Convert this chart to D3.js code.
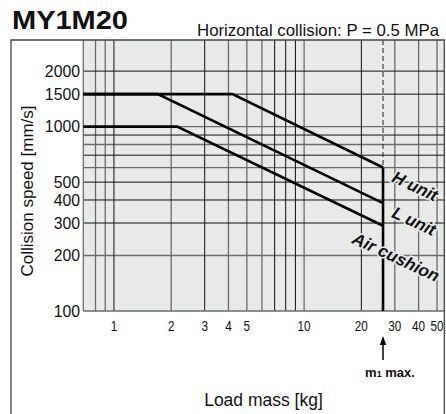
<!DOCTYPE html>
<html>
<head>
<meta charset="utf-8">
<script src="https://d3js.org/d3.v7.min.js"></script>
<style>
  body { margin: 0; background: #fff; }
  text { font-family: "Liberation Sans", Arial, Helvetica, sans-serif; fill: #111; }
</style>
</head>
<body>
<div id="chart"></div>
<script>
// data
var hUnit = [[0.69, 1500], [4.2, 1500], [26, 600]];
var lUnit = [[0.69, 1500], [1.7, 1500], [26, 385]];
var airCushion = [[0.69, 1000], [2.15, 1000], [26, 290]];
var m1Max = 26;

var yTicks = [100, 200, 300, 400, 500, 1000, 1500, 2000];
var xTicks = [1, 2, 3, 4, 5, 10, 20, 30, 40, 50];
var yGridBlack = [300, 400, 500, 700, 900, 1500, 2000];
var yGridGray = [200, 600, 800, 1000];
var xGridBlack = [1, 3, 7, 8, 9, 20];
var xGridGray = [0.8, 0.9, 2, 4, 5, 6, 10, 30, 40, 50];

var W = 446, H = 414;
var pLeft = 83.3, pRight = 444.3, pTop = 40, pBottom = 311;

var svg = d3.select("#chart").append("svg")
    .attr("width", W).attr("height", H);

var x = d3.scaleLog().domain([0.69, 54.6]).range([pLeft, pRight]);
var y = d3.scaleLog().domain([100, 2950]).range([pBottom, pTop]);

// titles
svg.append("text").attr("x", 12).attr("y", 29)
    .attr("textLength", 116).attr("lengthAdjust", "spacingAndGlyphs")
    .style("font-size", "25px").style("font-weight", "bold")
    .text("MY1M20");
svg.append("text").attr("x", 197).attr("y", 36)
    .attr("textLength", 242).attr("lengthAdjust", "spacingAndGlyphs")
    .style("font-size", "16.5px")
    .text("Horizontal collision: P = 0.5 MPa");

// plot background
svg.append("rect").attr("x", pLeft).attr("y", pTop)
    .attr("width", pRight - pLeft).attr("height", pBottom - pTop)
    .attr("fill", "#e8e9e9");

// grid
var grid = svg.append("g");
grid.selectAll(".hg").data(yGridGray).enter().append("line")
    .attr("x1", pLeft).attr("x2", pRight)
    .attr("y1", function(d) { return y(d); }).attr("y2", function(d) { return y(d); })
    .attr("stroke", "#6b6b6b").attr("stroke-width", 1.3);
grid.selectAll(".vg").data(xGridGray).enter().append("line")
    .attr("y1", pTop).attr("y2", pBottom)
    .attr("x1", function(d) { return x(d); }).attr("x2", function(d) { return x(d); })
    .attr("stroke", "#6b6b6b").attr("stroke-width", 1.3);
grid.selectAll(".hb").data(yGridBlack).enter().append("line")
    .attr("x1", pLeft).attr("x2", pRight)
    .attr("y1", function(d) { return y(d); }).attr("y2", function(d) { return y(d); })
    .attr("stroke", "#111").attr("stroke-width", 1);
grid.selectAll(".vb").data(xGridBlack).enter().append("line")
    .attr("y1", pTop).attr("y2", pBottom)
    .attr("x1", function(d) { return x(d); }).attr("x2", function(d) { return x(d); })
    .attr("stroke", "#111").attr("stroke-width", 1);

// axes edges
svg.append("line").attr("x1", pLeft).attr("x2", pRight).attr("y1", pBottom).attr("y2", pBottom)
    .attr("stroke", "#6b6b6b").attr("stroke-width", 1.3);
svg.append("line").attr("x1", pLeft).attr("x2", pLeft).attr("y1", pTop).attr("y2", pBottom)
    .attr("stroke", "#6b6b6b").attr("stroke-width", 1.3);

// tick labels
svg.selectAll(".yl").data(yTicks).enter().append("text")
    .attr("x", 80).attr("y", function(d) { return y(d); })
    .attr("dy", "0.36em").attr("text-anchor", "end")
    .style("font-size", "15.8px")
    .text(function(d) { return d; });

var clip = svg.append("clipPath").attr("id", "fc");
clip.append("rect").attr("x", 0).attr("y", 0).attr("width", pRight).attr("height", H);
svg.append("g").attr("clip-path", "url(#fc)")
    .selectAll(".xl").data(xTicks).enter().append("text")
    .attr("transform", function(d) { return "translate(" + x(d) + ",330.5) scale(0.78,1)"; })
    .attr("text-anchor", "middle")
    .style("font-size", "15px")
    .text(function(d) { return d; });

// m1 max dashed + solid limit line
svg.append("line").attr("x1", x(m1Max)).attr("x2", x(m1Max))
    .attr("y1", pTop).attr("y2", y(hUnit[2][1]))
    .attr("stroke", "#222").attr("stroke-width", 1).attr("stroke-dasharray", "5,3");
svg.append("line").attr("x1", x(m1Max)).attr("x2", x(m1Max))
    .attr("y1", y(hUnit[2][1])).attr("y2", pBottom)
    .attr("stroke", "#000").attr("stroke-width", 2.6);

// curves
var line = d3.line().x(function(d) { return x(d[0]); }).y(function(d) { return y(d[1]); });
[hUnit, lUnit, airCushion].forEach(function(s) {
    svg.append("path").attr("d", line(s))
        .attr("fill", "none").attr("stroke", "#000").attr("stroke-width", 2.6)
        .attr("stroke-linejoin", "miter");
});

// curve labels
var labels = [
    {t: "H unit", cx: 415, cy: 186},
    {t: "L unit", cx: 414, cy: 221},
    {t: "Air cushion", cx: 396, cy: 257}
];
svg.selectAll(".cl").data(labels).enter().append("text")
    .attr("transform", function(d) { return "translate(" + d.cx + "," + d.cy + ") rotate(25)"; })
    .attr("text-anchor", "middle").attr("dy", "0.35em")
    .style("font-size", "17px").style("font-weight", "bold").style("font-style", "italic")
    .style("stroke", "#e8e9e9").style("stroke-width", 3).style("paint-order", "stroke")
    .text(function(d) { return d.t; });

// frame
svg.append("path")
    .attr("d", "M11," + (H + 2) + "V" + pTop + "H" + pRight + "V" + (H + 2))
    .attr("fill", "none").attr("stroke", "#444").attr("stroke-width", 1.3);

// m1 max arrow
var ax = x(m1Max);
svg.append("line").attr("x1", ax).attr("x2", ax).attr("y1", 343).attr("y2", 360)
    .attr("stroke", "#000").attr("stroke-width", 1.5);
svg.append("path").attr("d", "M" + ax + ",336 L" + (ax - 3.2) + ",345 L" + (ax + 3.2) + ",345 Z")
    .attr("fill", "#000");
var mt = svg.append("text").attr("x", 390).attr("y", 377).attr("text-anchor", "middle")
    .style("font-size", "13px").style("font-weight", "bold");
mt.append("tspan").text("m");
mt.append("tspan").style("font-size", "9px").text("1");
mt.append("tspan").text(" max.");

// axis titles
svg.append("text").attr("x", 263.5).attr("y", 406).attr("text-anchor", "middle")
    .style("font-size", "17.5px").text("Load mass [kg]");
svg.append("text").attr("transform", "translate(33,191) rotate(-90)")
    .attr("text-anchor", "middle")
    .style("font-size", "17px").text("Collision speed [mm/s]");
</script>
</body>
</html>
